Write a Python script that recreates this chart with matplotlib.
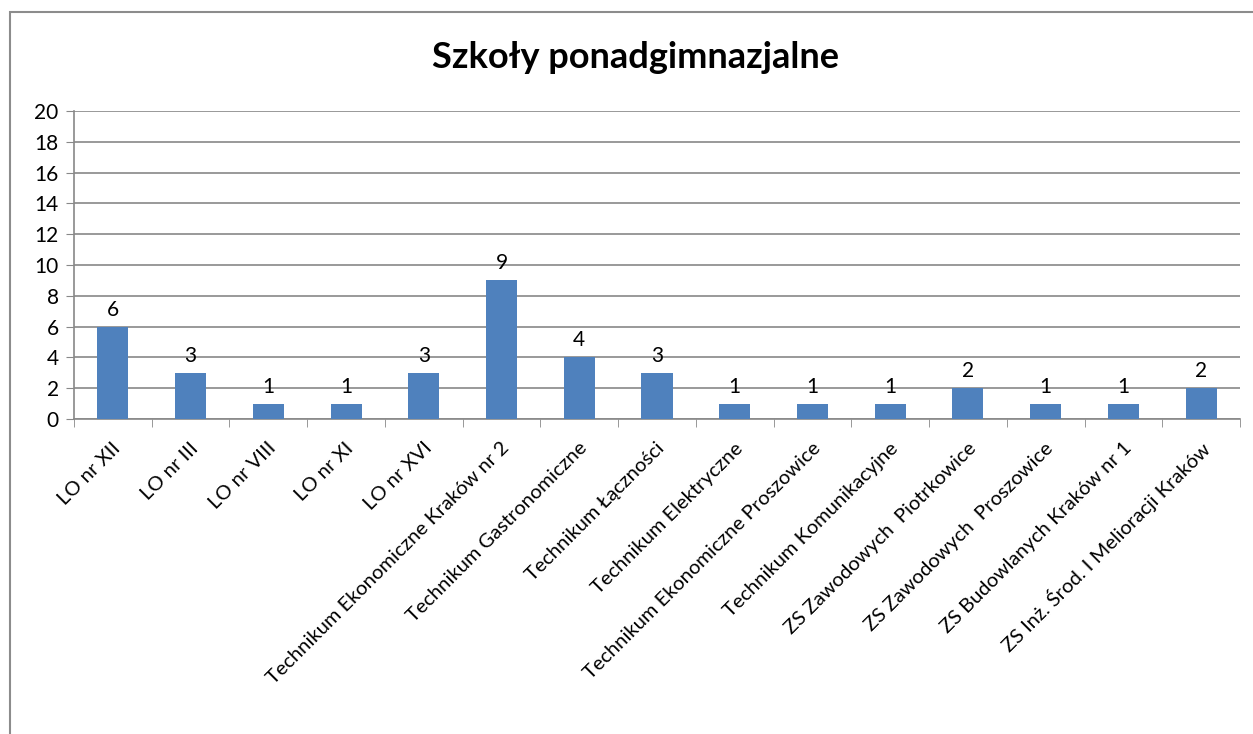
import numpy as np
from matplotlib import pyplot as plt
from matplotlib.patches import Rectangle
from matplotlib.transforms import ScaledTranslation

# data
schools = ["LO nr XII", "LO nr III", "LO nr VIII", "LO nr XI", "LO nr XVI",
           "Technikum Ekonomiczne Kraków nr 2", "Technikum Gastronomiczne",
           "Technikum Łączności", "Technikum Elektryczne",
           "Technikum Ekonomiczne Proszowice", "Technikum Komunikacyjne",
           "ZS Zawodowych  Piotrkowice", "ZS Zawodowych  Proszowice",
           "ZS Budowlanych Kraków nr 1", "ZS Inż. Środ. I Melioracji Kraków"]
counts = [6, 3, 1, 1, 3, 9, 4, 3, 1, 1, 1, 2, 1, 1, 2]
y_ticks = [0, 2, 4, 6, 8, 10, 12, 14, 16, 18, 20]

plt.rcParams['font.family'] = ['Lato', 'DejaVu Sans']
GRID = "#888888"
BAR = "#4F81BD"

fig = plt.figure(figsize=(12.53, 7.34), dpi=100)
W, H = 1253, 734

# outer chart frame (cut off at right and bottom like the reference)
fig.patches.append(Rectangle((10 / W, -0.1), 1.2, 1 - 12 / H + 0.1,
                             transform=fig.transFigure, fill=False,
                             edgecolor="#8c8c8c", linewidth=1.5))

ax = fig.add_axes([74 / W, 1 - 419 / H, (1240 - 74) / W, (419 - 111) / H])

x = np.arange(len(schools))
ax.bar(x, counts, width=0.4, color=BAR, zorder=3)
for xi, v in zip(x, counts):
    ax.text(xi, v + 0.45, str(v), ha="center", va="bottom", fontsize=15)

ax.set_xlim(-0.5, len(schools) - 0.5)
ax.set_ylim(0, 20)
ax.set_yticks(y_ticks)
ax.yaxis.grid(True, color=GRID, linewidth=1.2, zorder=0)
ax.tick_params(axis="y", length=6, color=GRID, labelsize=15, pad=5)

ax.set_xticks(x)
ax.set_xticklabels(schools, rotation=45, ha="right", va="center",
                   rotation_mode="anchor", fontsize=14.5)
ax.tick_params(axis="x", which="major", length=0, pad=19)
shift = ScaledTranslation(5 / 100, 0, fig.dpi_scale_trans)
for lbl in ax.get_xticklabels():
    lbl.set_transform(lbl.get_transform() + shift)
ax.set_xticks(np.arange(len(schools) + 1) - 0.5, minor=True)
ax.tick_params(axis="x", which="minor", length=6, color=GRID)

for s in ["top", "right"]:
    ax.spines[s].set_visible(False)
for s in ["left", "bottom"]:
    ax.spines[s].set_color(GRID)
    ax.spines[s].set_linewidth(1.2)

fig.text(0.507, 1 - 58 / H, "Szkoły ponadgimnazjalne", ha="center", va="center",
         fontsize=26, fontweight="bold")

fig.savefig("out.png", dpi=100)
